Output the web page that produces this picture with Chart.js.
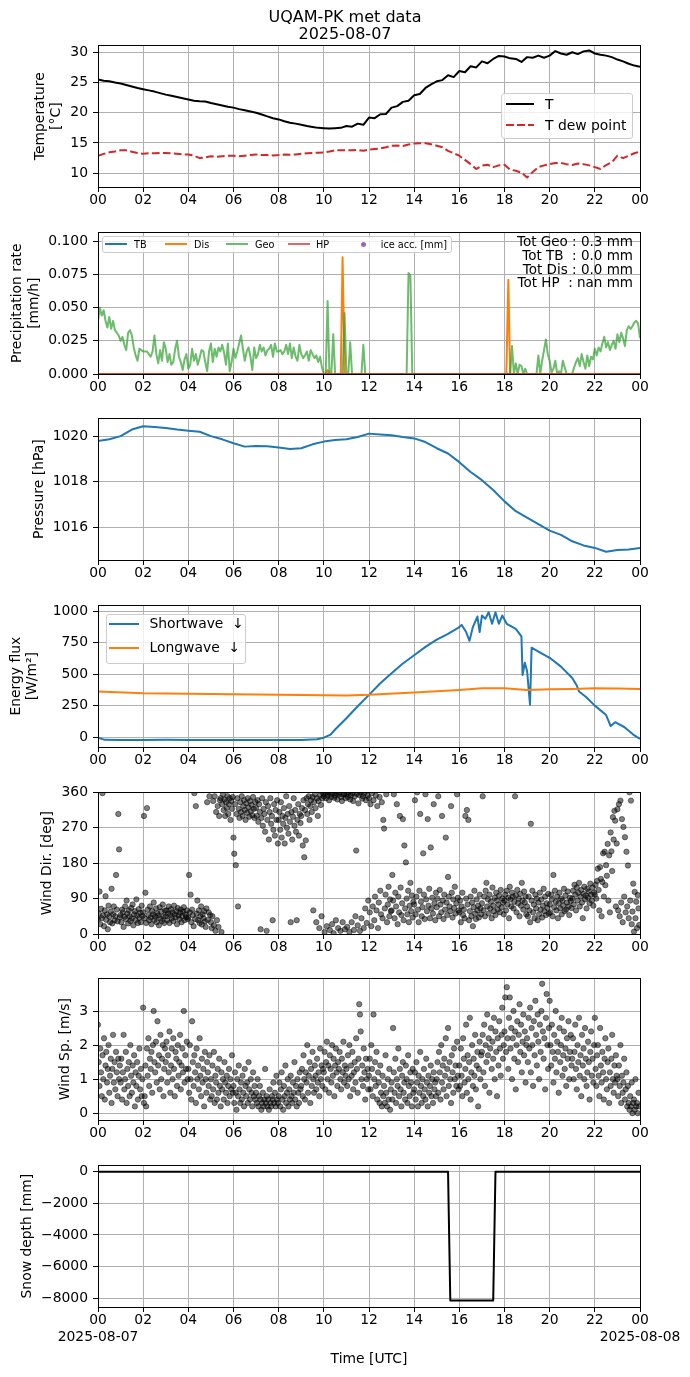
<!DOCTYPE html>
<html>
<head>
<meta charset="utf-8">
<script src="https://cdn.jsdelivr.net/npm/chart.js@4.4.1/dist/chart.umd.min.js"></script>
<style>
html,body{margin:0;padding:0;background:#fff;}
body{width:690px;height:1377px;position:relative;overflow:hidden;font-family:"DejaVu Sans",sans-serif;color:#000;}
canvas{position:absolute;left:0;z-index:1;}
.txt{position:absolute;white-space:pre;line-height:1;z-index:3;}
.leg{position:absolute;box-sizing:border-box;background:rgba(255,255,255,0.8);border:1px solid #cccccc;border-radius:3px;z-index:2;}
.hl{position:absolute;height:2px;z-index:3;}
.dot{position:absolute;border-radius:50%;z-index:3;}
</style>
</head>
<body>
<div class="txt" style="left:0;width:690px;top:8px;text-align:center;font-size:16px;line-height:17px;">UQAM-PK met data
2025-08-07</div>

<!-- legend panel 1 -->
<div class="leg" style="left:501px;top:93px;width:132px;height:46px;"></div>
<div class="hl" style="left:506px;top:103px;width:28px;background:#000;"></div>
<div class="txt" style="left:545px;top:97.5px;font-size:13.9px;">T</div>
<div class="hl" style="left:506px;top:124px;width:28px;background:repeating-linear-gradient(90deg,#d62728 0 7.7px,transparent 7.7px 11px);"></div>
<div class="txt" style="left:545px;top:118.6px;font-size:13.9px;">T dew point</div>

<!-- legend panel 2 -->
<div class="leg" style="left:102px;top:236px;width:350px;height:17px;"></div>
<div class="hl" style="left:105px;top:243.3px;width:22px;background:#1f77b4;"></div>
<div class="txt" style="left:134px;top:239.6px;font-size:9.7px;">TB</div>
<div class="hl" style="left:165px;top:243.3px;width:22px;background:#ff7f0e;"></div>
<div class="txt" style="left:194px;top:239.6px;font-size:9.7px;">Dis</div>
<div class="hl" style="left:226px;top:243.3px;width:22px;background:rgba(44,160,44,0.7);"></div>
<div class="txt" style="left:255px;top:239.6px;font-size:9.7px;">Geo</div>
<div class="hl" style="left:288px;top:243.3px;width:22px;background:rgba(214,39,40,0.7);"></div>
<div class="txt" style="left:316px;top:239.6px;font-size:9.7px;">HP</div>
<div class="dot" style="left:361.2px;top:241.8px;width:5px;height:5px;background:#9467bd;"></div>
<div class="txt" style="left:380.7px;top:239.6px;font-size:9.7px;">ice acc. [mm]</div>
<div class="txt" style="right:57px;top:235.3px;font-size:13.5px;line-height:13.7px;text-align:right;">Tot Geo : 0.3 mm
Tot TB  : 0.0 mm
Tot Dis : 0.0 mm
Tot HP  : nan mm</div>

<!-- legend panel 4 -->
<div class="leg" style="left:105.5px;top:613.7px;width:140px;height:50.3px;"></div>
<div class="hl" style="left:109px;top:623px;width:29.5px;background:#1f77b4;"></div>
<div class="txt" style="left:149.5px;top:617.3px;font-size:13.9px;">Shortwave  ↓</div>
<div class="hl" style="left:109px;top:646.6px;width:29.5px;background:#ff7f0e;"></div>
<div class="txt" style="left:149.5px;top:640.9px;font-size:13.9px;">Longwave  ↓</div>

<script>
// ---------------- DATA ----------------
const X_TICKS = [0,2,4,6,8,10,12,14,16,18,20,22,24];
const START_DATE = '2025-08-07';
const END_DATE = '2025-08-08';

// Temperature, every 15 min
const T_STEP_H = 0.25;
const tempT = [
 25.5,25.3,25.2,25.0, 24.85,24.6,24.35,24.1, 23.9,23.7,23.5,23.25, 23.0,22.8,22.6,22.4,
 22.2,22.0,21.9,21.85, 21.6,21.4,21.2,21.0, 20.85,20.6,20.4,20.2, 20.0,19.7,19.4,19.1,
 18.9,18.6,18.35,18.2, 18.0,17.8,17.65,17.5, 17.45,17.4,17.45,17.5, 17.8,17.7,18.2,18.0,
 19.2,19.1,19.75,19.8, 20.85,21.1,21.8,22.0, 22.9,23.1,24.1,24.7, 25.2,25.4,26.2,25.9,
 26.9,26.7,27.7,27.5, 28.5,28.2,28.9,29.4, 29.3,29.0,28.9,28.4, 29.2,29.1,29.45,29.1,
 29.45,30.2,29.8,29.6, 30.0,29.7,30.15,30.3, 29.8,29.6,29.45,29.2, 28.8,28.5,28.1,27.8, 27.6];
const tempTd = [
 12.9,13.2,13.45,13.6, 13.8,13.8,13.55,13.35, 13.2,13.3,13.3,13.35, 13.35,13.3,13.2,13.1,
 13.1,12.9,12.5,12.6, 12.8,12.7,12.8,12.9, 12.9,12.8,12.9,13.0, 13.1,13.0,13.0,12.95,
 13.0,13.1,13.05,13.1, 13.2,13.3,13.35,13.4, 13.45,13.6,13.8,13.8, 13.8,13.8,13.85,13.7,
 13.9,14.0,14.1,14.3, 14.55,14.6,14.5,14.75, 14.9,14.95,14.95,14.8, 14.55,14.3,13.7,13.3,
 12.9,12.2,11.5,10.7, 11.25,11.4,11.0,11.3, 11.4,10.6,10.4,10.1, 9.3,10.2,11.0,11.3,
 11.5,11.7,11.7,11.5, 11.35,11.6,11.5,11.3, 11.0,10.7,11.35,11.8, 12.9,12.5,12.9,13.3, 13.6];

// Precipitation rate [mm/h]
const GEO_STEP_H = 5/60;
const precipGeo = [
 0.040,0.050,0.044,0.048,0.040,0.035,0.043,0.034,0.040,0.033,0.031,0.029,
 0.025,0.028,0.022,0.018,0.031,0.033,0.029,0.020,0.014,0.010,0.019,0.018,
 0.017,0.017,0.017,0.015,0.013,0.017,0.029,0.015,0.008,0.018,0.010,0.024,
 0.019,0.009,0.015,0.007,0.009,0.019,0.025,0.013,0.009,0.003,0.011,0.015,
 0.004,0.007,0.019,0.010,0.015,0.007,0.012,0.018,0.017,0.009,0.002,0.017,
 0.023,0.009,0.019,0.013,0.020,0.017,0.022,0.016,0.007,0.023,0.002,0.009,
 0.019,0.012,0.017,0.023,0.029,0.019,0.010,0.017,0.020,0.013,0.003,0.020,
 0.012,0.015,0.022,0.017,0.020,0.014,0.018,0.019,0.022,0.013,0.023,0.017,
 0.017,0.018,0.015,0.017,0.022,0.015,0.023,0.012,0.020,0.013,0.010,0.022,
 0.015,0.012,0.014,0.017,0.010,0.018,0.015,0.012,0.014,0.009,0.013,0.005,
 0,0,0.055,0,0,0.030,0,0,0,0,0,0.046,
 0,0,0.024,0,0,0,0,0,0,0.022,0,0,
 0,0,0,0,0,0,0,0,0,0,0,0,
 0,0,0,0,0,0,0,0,0,0.076,0.074,0,
 0,0,0,0,0,0,0,0,0,0,0,0,
 0,0,0,0,0,0,0,0,0,0,0,0,
 0,0,0,0,0,0,0,0,0,0,0,0,
 0,0,0,0,0,0,0,0,0,0,0,0,
 0,0,0,0,0.021,0,0.008,0,0.007,0.006,0,0.004,
 0,0,0,0,0,0,0.014,0,0.010,0.018,0.026,0.015,
 0.010,0.001,0.004,0.010,0,0.002,0,0.010,0.005,0,0,0,
 0,0.005,0.009,0.012,0.006,0.015,0.009,0.004,0.014,0.006,0.013,0.011,
 0.019,0.014,0.020,0.017,0.023,0.028,0.020,0.024,0.018,0.022,0.025,0.019,
 0.030,0.024,0.031,0.027,0.021,0.033,0.036,0.034,0.036,0.039,0.040,0.038,
 0.027];
const disT = [0,10.08,10.17,10.25,10.75,10.83,10.92,18.08,18.17,18.25,24];
const disV = [0,0,0.003,0,0,0.088,0,0,0.071,0,0];
const tbT = [0,24], tbV = [0,0];
const hpT = [0,24], hpV = [0,0];

// Pressure [hPa], every 30 min
const P_STEP_H = 0.5;
const pressure = [
 1019.79,1019.86,1020.0,1020.29,1020.43,1020.4,1020.36,1020.29,1020.24,1020.19,
 1020.0,1019.86,1019.69,1019.54,1019.57,1019.56,1019.5,1019.44,1019.47,1019.64,
 1019.76,1019.83,1019.86,1019.96,1020.11,1020.07,1020.04,1019.96,1019.9,1019.74,
 1019.47,1019.24,1018.86,1018.43,1018.07,1017.64,1017.14,1016.71,1016.43,1016.14,
 1015.86,1015.67,1015.39,1015.21,1015.1,1014.93,1015.01,1015.03,1015.1];

// Energy flux [W/m2]
const swT = [0,0.3,1,2,3,4,5,6,7,8,9,9.7,10,10.3,10.5,11,11.5,12,12.5,13,13.5,14,14.5,15,15.5,16,16.1,16.3,16.45,16.6,16.8,16.9,17.0,17.15,17.3,17.45,17.6,17.75,17.9,18.1,18.5,18.75,18.8,18.9,19.0,19.13,19.2,19.5,20,20.5,21,21.2,21.3,21.6,22,22.5,22.7,22.9,23.3,23.7,24];
const swV = [-5,-22,-24,-24,-22,-23,-23,-24,-24,-24,-23,-18,-5,20,60,150,245,335,428,507,585,650,717,774,820,874,892,835,765,874,958,835,966,940,992,900,992,900,966,900,860,800,493,590,525,257,710,680,630,560,470,410,362,320,250,175,87,118,80,20,-15];
const lwT = [0,2,4,6,8,10,11,12,14,16,17,18,19,20,21,22,23,24];
const lwV = [362,349,344,341,336,333,331,336,354,375,388,388,375,380,383,388,386,383];

// Wind, every 2 min (30 values per hour)
const WIND_STEP_H = 2/60;
const windDir = [
 38,52,108,25,64,40,358,47,20,60,96,36,50,12,72,44,30,57,115,27,50,70,35,45,150,62,32,305,215,42,
 48,30,62,55,18,44,70,38,85,52,27,60,45,33,66,40,75,22,50,58,35,88,47,28,63,41,54,30,72,46,
 55,300,40,105,28,320,62,48,35,70,42,25,58,50,80,36,44,65,30,52,47,22,68,39,57,33,75,45,28,60,
 45,60,35,52,70,28,48,63,40,55,33,72,50,42,58,25,66,47,38,54,62,30,45,57,68,35,50,43,60,38,
 42,150,55,100,30,62,48,20,358,38,325,52,85,35,60,28,45,70,24,50,40,58,32,18,65,335,36,55,350,48,
 30,15,45,338,22,350,8,310,35,325,18,300,340,345,5,330,355,315,342,300,335,320,350,305,330,345,290,338,318,348,
 245,204,330,175,305,345,70,318,295,335,310,350,300,325,340,315,290,332,308,345,322,298,338,312,328,302,348,318,295,335,
 320,300,340,285,330,310,12,295,345,275,318,305,260,335,8,290,325,240,310,345,280,300,35,265,330,250,315,290,340,230,
 290,310,265,335,245,300,280,320,230,295,350,270,305,255,325,285,30,310,240,298,345,275,315,260,35,290,330,250,305,282,
 300,320,225,340,195,315,238,345,305,330,350,290,325,340,310,348,60,335,355,320,30,345,300,338,15,352,328,45,345,358,
 350,5,358,345,20,352,360,340,10,355,348,25,358,2,346,352,35,357,342,15,355,360,8,348,338,30,354,356,12,345,
 355,18,348,360,5,342,352,30,358,338,10,350,45,212,356,22,332,353,8,360,40,344,350,15,358,65,340,28,352,85,
 345,55,330,20,358,70,340,35,95,352,60,325,15,80,348,110,50,335,40,290,268,65,100,355,30,75,120,45,88,58,
 60,150,85,355,40,105,70,330,25,95,55,300,118,48,78,292,35,225,65,182,90,50,110,30,72,130,58,98,42,82,
 75,340,50,95,360,62,30,110,305,82,45,68,205,100,38,355,88,58,292,72,115,40,220,65,92,52,330,78,35,105,
 68,90,350,45,112,75,55,300,85,38,100,62,245,80,48,145,95,70,58,325,105,42,88,66,120,52,78,355,92,60,
 55,85,30,70,105,48,62,40,300,90,315,75,290,35,58,95,45,80,20,68,110,52,38,88,60,72,42,100,65,50,
 78,350,60,95,45,110,130,70,88,52,100,65,82,40,118,72,58,92,48,105,85,62,75,98,55,112,68,90,80,50,
 85,100,60,110,75,92,40,120,88,70,105,95,65,82,350,98,55,112,78,90,45,102,72,130,85,62,108,80,95,50,
 70,45,95,60,30,280,85,110,55,75,40,100,65,90,35,80,50,105,62,88,42,72,115,58,95,48,78,66,102,52,
 75,55,100,88,45,150,68,110,82,60,95,40,78,105,65,90,50,85,72,115,58,98,62,80,108,70,48,92,84,66,
 90,110,75,125,100,60,118,85,105,130,70,95,112,80,40,102,120,88,98,65,115,92,108,78,128,100,85,118,72,105,
 100,125,90,135,166,112,60,170,140,45,132,205,95,209,124,175,148,229,85,200,55,258,210,160,297,240,313,288,70,230,
 317,60,330,45,339,80,292,30,272,95,246,55,209,70,174,40,360,85,339,25,57,128,6,107,40,82,15,99,65,23];
const windSpd = [
 2.6,1.5,0.8,1.9,1.2,0.5,1.7,1.0,2.2,0.4,1.4,1.8,0.9,1.3,2.0,0.6,1.1,1.6,0.3,1.3,2.3,0.9,1.5,0.7,1.8,1.2,0.5,1.6,1.0,1.4,
 0.9,1.6,0.4,1.2,2.3,0.7,1.0,1.8,0.3,1.3,0.8,1.5,0.5,2.0,1.1,0.6,1.4,0.9,1.7,0.2,1.2,0.8,1.5,0.4,1.1,1.9,0.7,1.3,0.5,1.0,
 3.1,0.3,0.5,1.4,0.2,1.9,1.1,2.2,0.8,1.6,1.3,1.8,0.6,2.0,3.0,1.5,1.2,2.1,0.9,2.7,1.4,1.7,0.7,2.3,1.0,1.6,2.0,0.5,1.3,1.9,
 1.5,2.1,0.9,1.7,1.2,2.4,0.6,1.4,1.9,1.0,2.2,1.3,0.5,1.8,1.6,0.8,2.0,1.1,1.5,2.3,0.7,1.4,1.9,1.2,3.0,0.9,1.7,1.3,2.1,1.0,
 1.3,0.6,2.0,1.0,0.4,2.7,1.5,0.8,1.7,1.2,0.3,1.9,1.0,1.4,0.7,2.2,1.1,0.5,1.6,0.9,1.3,0.2,1.8,1.0,0.6,1.5,1.2,0.8,1.7,0.4,
 1.0,0.5,1.4,0.7,1.8,0.3,1.1,0.9,0.4,1.3,0.6,1.6,0.8,0.2,1.2,0.7,1.0,0.4,1.5,0.9,0.6,1.1,0.3,0.8,1.3,0.5,1.0,0.7,1.7,0.6,
 0.8,0.3,1.2,0.6,0.1,1.0,0.5,1.4,0.7,0.3,0.9,0.4,1.1,0.6,0.2,1.3,0.8,0.5,0.9,0.3,1.5,0.7,0.4,1.0,0.6,0.2,1.2,0.5,0.8,0.4,
 0.6,0.3,1.0,0.2,0.5,0.8,0.4,0.1,0.3,0.6,0.2,0.4,1.3,0.3,0.5,0.2,0.4,0.1,0.7,0.3,0.2,0.5,0.4,0.9,0.3,0.6,0.2,1.1,0.4,0.3,
 0.5,0.9,0.2,0.7,1.2,0.4,0.1,0.8,0.5,1.4,0.3,0.6,1.0,0.2,0.7,0.4,1.1,0.5,0.3,0.9,0.6,1.5,0.4,0.8,0.2,1.0,0.6,0.3,1.2,0.7,
 0.8,1.3,0.5,1.7,1.0,0.4,1.2,0.9,2.0,0.6,1.1,1.5,0.3,1.3,0.8,1.8,1.0,0.6,1.4,1.1,0.7,1.6,0.9,1.2,0.5,1.9,1.0,1.4,0.8,1.3,
 1.2,1.8,0.7,1.5,2.1,1.0,1.4,0.6,1.7,1.3,0.9,2.0,1.1,1.6,0.5,1.4,1.9,1.2,0.8,1.5,1.3,1.8,1.0,0.7,1.6,1.2,2.1,0.9,1.4,1.1,
 1.3,0.8,1.7,1.0,2.0,0.5,1.4,1.1,1.8,0.7,1.2,1.5,0.9,2.2,1.3,0.6,1.6,3.2,2.9,2.4,1.0,1.4,0.8,1.9,1.2,0.4,1.6,1.0,1.3,0.7,
 1.1,1.6,0.7,2.0,1.3,0.5,2.9,1.0,1.5,0.8,1.8,0.4,1.2,0.9,0.3,1.4,0.6,0.2,1.1,0.5,0.8,0.3,1.7,0.6,0.2,1.0,0.4,1.3,0.1,0.7,
 0.9,0.4,2.5,1.2,0.6,1.6,0.3,1.0,0.8,1.9,0.5,1.3,0.7,0.2,1.1,1.5,0.6,0.9,0.4,1.4,1.0,0.3,1.7,0.8,0.5,1.2,0.9,0.2,1.3,0.6,
 0.7,1.2,0.4,1.5,0.9,0.2,1.1,0.6,1.8,0.8,0.3,1.0,0.5,1.3,0.7,0.4,1.6,0.9,0.2,1.1,0.6,0.8,1.4,0.5,1.0,0.3,1.2,0.7,0.9,0.5,
 1.0,1.5,0.6,1.8,1.2,0.4,2.0,0.9,1.4,0.7,1.6,1.1,2.2,0.5,1.3,2.5,0.8,1.5,1.0,0.3,1.7,1.2,0.6,1.9,1.0,1.4,0.8,2.1,1.1,0.7,
 1.4,0.8,1.9,1.1,0.5,2.2,1.6,0.9,1.3,2.6,0.6,1.7,1.0,1.5,2.8,0.4,1.2,2.0,0.8,1.6,1.1,2.3,0.7,1.4,1.8,0.2,1.3,2.1,1.0,1.7,
 1.8,2.3,1.2,2.6,0.8,2.0,1.5,2.9,1.7,2.2,0.6,1.9,2.5,1.3,2.1,1.6,2.8,1.0,2.4,1.8,0.5,2.2,1.4,2.7,1.9,1.1,2.3,3.1,1.6,2.0,
 2.4,3.4,1.8,3.7,2.2,1.3,2.8,3.4,1.9,2.5,1.0,2.2,3.0,1.6,2.4,0.7,2.0,2.7,1.5,2.3,3.2,1.8,2.6,1.2,2.1,2.9,1.7,2.4,0.9,2.0,
 2.2,1.5,2.8,1.9,3.1,1.2,2.5,2.0,0.8,2.7,1.7,3.3,2.3,1.4,2.9,2.1,1.0,2.6,1.8,3.0,3.8,2.4,1.6,2.2,0.7,2.8,3.5,2.0,1.3,2.5,
 3.3,2.0,1.4,2.6,1.8,0.9,2.3,1.6,3.0,1.2,2.1,1.8,0.6,2.5,1.5,2.0,2.8,1.1,1.7,2.4,1.3,1.9,0.8,2.2,1.6,2.7,1.0,1.8,2.3,1.4,
 1.6,2.2,1.0,1.8,2.6,1.3,0.7,2.0,1.5,2.8,1.1,1.7,0.5,2.3,1.4,1.9,1.0,2.5,1.6,0.8,1.2,2.1,1.5,0.4,1.8,2.4,1.1,1.6,0.9,2.0,
 2.8,1.3,0.8,1.7,2.0,1.1,0.5,2.5,1.4,0.9,1.8,1.2,0.4,1.6,2.2,1.0,0.7,1.5,1.9,0.3,1.2,0.8,1.6,2.3,1.0,0.6,1.4,0.9,1.7,1.1,
 1.0,0.5,1.4,0.8,2.0,0.3,1.1,0.6,0.9,1.6,0.4,0.7,1.2,0.2,0.8,0.3,0.1,0.5,0.2,0.9,0.0,0.3,0.4,0.1,1.0,0.2,0.3,0.0,0.6,0.2];

// Snow depth [mm]
const snowT = [0,15.5,15.6,17.5,17.6,24];
const snowV = [0,0,-8150,-8150,0,0];

// Y axis ticks
const T_TICKS = [10,15,20,25,30];
const PR_TICKS = [0,0.025,0.05,0.075,0.1];
const P_TICKS = [1016,1018,1020];
const E_TICKS = [0,250,500,750,1000];
const WD_TICKS = [0,90,180,270,360];
const WS_TICKS = [0,1,2,3];
const SN_TICKS = [-8000,-6000,-4000,-2000,0];

// ---------------- DRAWING ----------------
Chart.defaults.font.family = "'DejaVu Sans', sans-serif";
Chart.defaults.font.size = 13.9;
Chart.defaults.color = '#000';

const PANEL_TOPS = [44,231,417,604,791,977,1164];
const PANEL_H = 143;
const PAD_TOP = 12;
const GRID = '#b0b0b0';

const regular = (step, ys) => ys.map((y,i) => ({x: i*step, y}));
const paired = (xs, ys) => ys.map((y,i) => ({x: xs[i], y}));
const hh = v => String(((Math.round(v)%24)+24)%24).padStart(2,'0');
const minus = v => v < 0 ? '\u2212' + Math.abs(v) : String(v);

const framePlugin = {
  id: 'frame',
  afterDatasetsDraw(c) {
    const a = c.chartArea, ctx = c.ctx;
    ctx.save();
    ctx.strokeStyle = '#000'; ctx.lineWidth = 1;
    const l = Math.round(a.left)+0.5, t = Math.round(a.top)+0.5, r = Math.round(a.right)+0.5, b = Math.round(a.bottom)+0.5;
    ctx.strokeRect(l, t, r-l, b-t);
    ctx.restore();
  }
};

function line(data, color, width, extra) {
  return Object.assign({data, showLine:true, borderColor:color, backgroundColor:color, borderWidth:width,
    pointRadius:0, pointHoverRadius:0, tension:0, borderJoinStyle:'round', fill:false}, extra||{});
}
function dots(data) {
  return {data, showLine:false, pointRadius:2.7, pointHoverRadius:2.7, pointBorderWidth:0.8,
    pointBackgroundColor:'rgba(0,0,0,0.5)', pointBorderColor:'rgba(0,0,0,0.55)'};
}

function panel(i, o) {
  const xh = o.xh || 30;
  const H = PANEL_H + PAD_TOP + xh;
  const cv = document.createElement('canvas');
  cv.width = 690; cv.height = H;
  cv.style.top = (PANEL_TOPS[i] - PAD_TOP) + 'px';
  cv.style.width = '690px'; cv.style.height = H + 'px';
  document.body.appendChild(cv);
  const gridOpts = {color:GRID, lineWidth:1, tickColor:'#000', tickLength:5, tickWidth:1, drawTicks:true};
  return new Chart(cv, {
    type: 'scatter',
    data: {datasets: o.datasets},
    options: {
      responsive:false, animation:false,
      layout:{padding:{top:PAD_TOP, right:50, left:0, bottom:0}},
      plugins:{legend:{display:false}, tooltip:{enabled:false}},
      events: [],
      scales:{
        x:{type:'linear', min:0, max:24,
          afterBuildTicks: s => { s.ticks = X_TICKS.map(v => ({value:v})); },
          afterFit: s => { s.height = xh; },
          grid: gridOpts, border:{display:false},
          ticks:{autoSkip:false, maxRotation:0, minRotation:0, padding:0, font:{size:13.9, lineHeight:1.2},
            callback: o.xcb || (v => hh(v))},
          title: o.xtitle ? {display:true, text:o.xtitle, font:{size:13.9, lineHeight:1.2}, padding:{top:0, bottom:9.7}} : {display:false}
        },
        y:{type:'linear', min:o.ymin, max:o.ymax,
          afterBuildTicks: s => { s.ticks = o.yticks.map(v => ({value:v})); },
          afterFit: s => { s.width = 98; },
          grid: gridOpts, border:{display:false},
          ticks:{padding:5, font:{size:13.9}, callback: o.ycb || (v => String(v))},
          title:{display:true, text:o.ytitle, font:{size:13.9, lineHeight:1.2}, padding:{top:o.ytpad, bottom:0}}
        }
      }
    },
    plugins:[framePlugin]
  });
}

// 1 Temperature
panel(0, {
  ymin:7.72, ymax:31.15, yticks:T_TICKS, ytitle:['Temperature','[°C]'], ytpad:31.7,
  datasets:[
    line(regular(T_STEP_H, tempT), '#000', 2, {order:2}),
    line(regular(T_STEP_H, tempTd), '#d62728', 2, {order:1, borderDash:[7.7,3.3]})
  ]
});
// 2 Precipitation
panel(1, {
  ymin:0, ymax:0.1067, yticks:PR_TICKS, ytitle:['Precipitation rate','[mm/h]'], ytpad:9.2,
  ycb: v => v.toFixed(3),
  datasets:[
    line(paired(tbT, tbV), '#1f77b4', 2, {order:4}),
    line(paired(disT, disV), '#ff7f0e', 2, {order:3}),
    line(regular(GEO_STEP_H, precipGeo), 'rgba(44,160,44,0.7)', 2, {order:2}),
    line(paired(hpT, hpV), 'rgba(214,39,40,0.7)', 2, {order:1})
  ]
});
// 3 Pressure
panel(2, {
  ymin:1014.57, ymax:1020.78, yticks:P_TICKS, ytitle:'Pressure [hPa]', ytpad:30.7,
  datasets:[ line(regular(P_STEP_H, pressure), '#1f77b4', 2) ]
});
// 4 Energy flux
panel(3, {
  ymin:-79, ymax:1047, yticks:E_TICKS, ytitle:['Energy flux','[W/m²]'], ytpad:7.7,
  datasets:[
    line(paired(swT, swV), '#1f77b4', 2, {order:2}),
    line(paired(lwT, lwV), '#ff7f0e', 2, {order:1})
  ]
});
// 5 Wind direction
panel(4, {
  ymin:0, ymax:360, yticks:WD_TICKS, ytitle:'Wind Dir. [deg]', ytpad:38.7,
  datasets:[ dots(regular(WIND_STEP_H, windDir)) ]
});
// 6 Wind speed
panel(5, {
  ymin:-0.2, ymax:3.96, yticks:WS_TICKS, ytitle:'Wind Sp. [m/s]', ytpad:56.7,
  datasets:[ dots(regular(WIND_STEP_H, windSpd)) ]
});
// 7 Snow depth
panel(6, {
  xh: 1377 - (PANEL_TOPS[6] + PANEL_H),
  ymin:-8557, ymax:407, yticks:SN_TICKS, ytitle:'Snow depth [mm]', ytpad:19.2,
  ycb: minus,
  xtitle:'Time [UTC]',
  xcb: (v, i, ticks) => {
    const s = hh(v);
    if (i === 0) return [s, START_DATE];
    if (i === ticks.length - 1) return [s, END_DATE];
    return s;
  },
  datasets:[ line(paired(snowT, snowV), '#000', 2) ]
});
</script>
</body>
</html>
